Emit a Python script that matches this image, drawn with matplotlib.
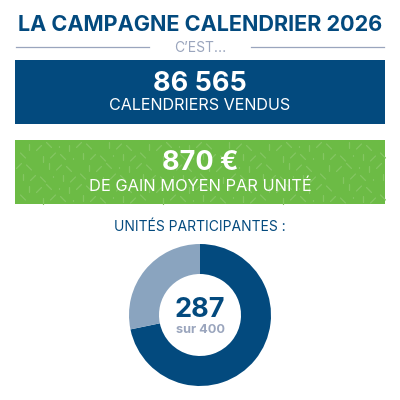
import matplotlib
matplotlib.use("Agg")
import matplotlib.pyplot as plt
from matplotlib.patches import Rectangle

title = "LA CAMPAGNE CALENDRIER 2026"
subtitle = "C’EST..."
stat1_value = "86 565"
stat1_label = "CALENDRIERS VENDUS"
stat2_value = "870 €"
stat2_label = "DE GAIN MOYEN PAR UNITÉ"
donut_title = "UNITÉS PARTICIPANTES :"
participating = 287
total = 400

NAVY = "#034a7e"
LIGHT = "#8aa4bf"
GREEN = "#6cbb45"
CONF = "#84c662"
GREY = "#9aa5bd"

plt.rcParams["font.family"] = ["Inter", "DejaVu Sans"]
fig = plt.figure(figsize=(4, 4), dpi=100, facecolor="white")
ax = fig.add_axes([0, 0, 1, 1])
ax.set_xlim(0, 400)
ax.set_ylim(400, 0)
ax.axis("off")

ax.text(200, 25, title, ha="center", va="center", fontsize=15.6, fontweight="bold", color=NAVY)
ax.plot([16, 149], [46.5, 46.5], color=GREY, lw=0.9)
ax.plot([251, 384], [46.5, 46.5], color=GREY, lw=0.9)
ax.text(200, 47.5, subtitle, ha="center", va="center", fontsize=10, color=GREY)

ax.add_patch(Rectangle((15, 60), 370, 64, color=NAVY, lw=0))
ax.text(200, 84, stat1_value, ha="center", va="center", fontsize=19.5, fontweight="bold", color="white")
ax.text(200, 106, stat1_label, ha="center", va="center", fontsize=11.6, color="white")

ax.add_patch(Rectangle((15, 140), 370, 64, color=GREEN, lw=0))
# decorative confetti texture inside the green band
for i in range(37):
    for j in range(6):
        x = 19 + i * 10 + (j % 2) * 4
        y = 145 + j * 10.5 + (i % 3) * 1.5
        kind = (i * 7 + j * 5) % 4
        dx, dy = [(0, 0.4), (2.5, 2.5), (-2.5, 2.5), (0, 3)][kind]
        ax.plot([x - dx, x + dx], [y - dy, y + dy], color=CONF, lw=0.9, solid_capstyle="round")

ax.text(200, 163, stat2_value, ha="center", va="center", fontsize=19.5, fontweight="bold", color="white")
ax.text(200, 186, stat2_label, ha="center", va="center", fontsize=11.8, color="white")

ax.text(200, 227, donut_title, ha="center", va="center", fontsize=10, color=NAVY)

dax = fig.add_axes([(200 - 71) / 400, 1 - (315 + 71) / 400, 142 / 400, 142 / 400])
dax.pie([participating, total - participating], colors=[NAVY, LIGHT], startangle=90,
        counterclock=False, radius=1, wedgeprops=dict(width=30 / 71, lw=0))
dax.set_xlim(-1, 1)
dax.set_ylim(-1, 1)
ax.text(200, 310, str(participating), ha="center", va="center", fontsize=19.5, fontweight="bold", color=NAVY)
ax.text(200, 330, f"sur {total}", ha="center", va="center", fontsize=9.2, fontweight="bold", color=GREY)

fig.savefig("out.png", dpi=100, facecolor="white")
